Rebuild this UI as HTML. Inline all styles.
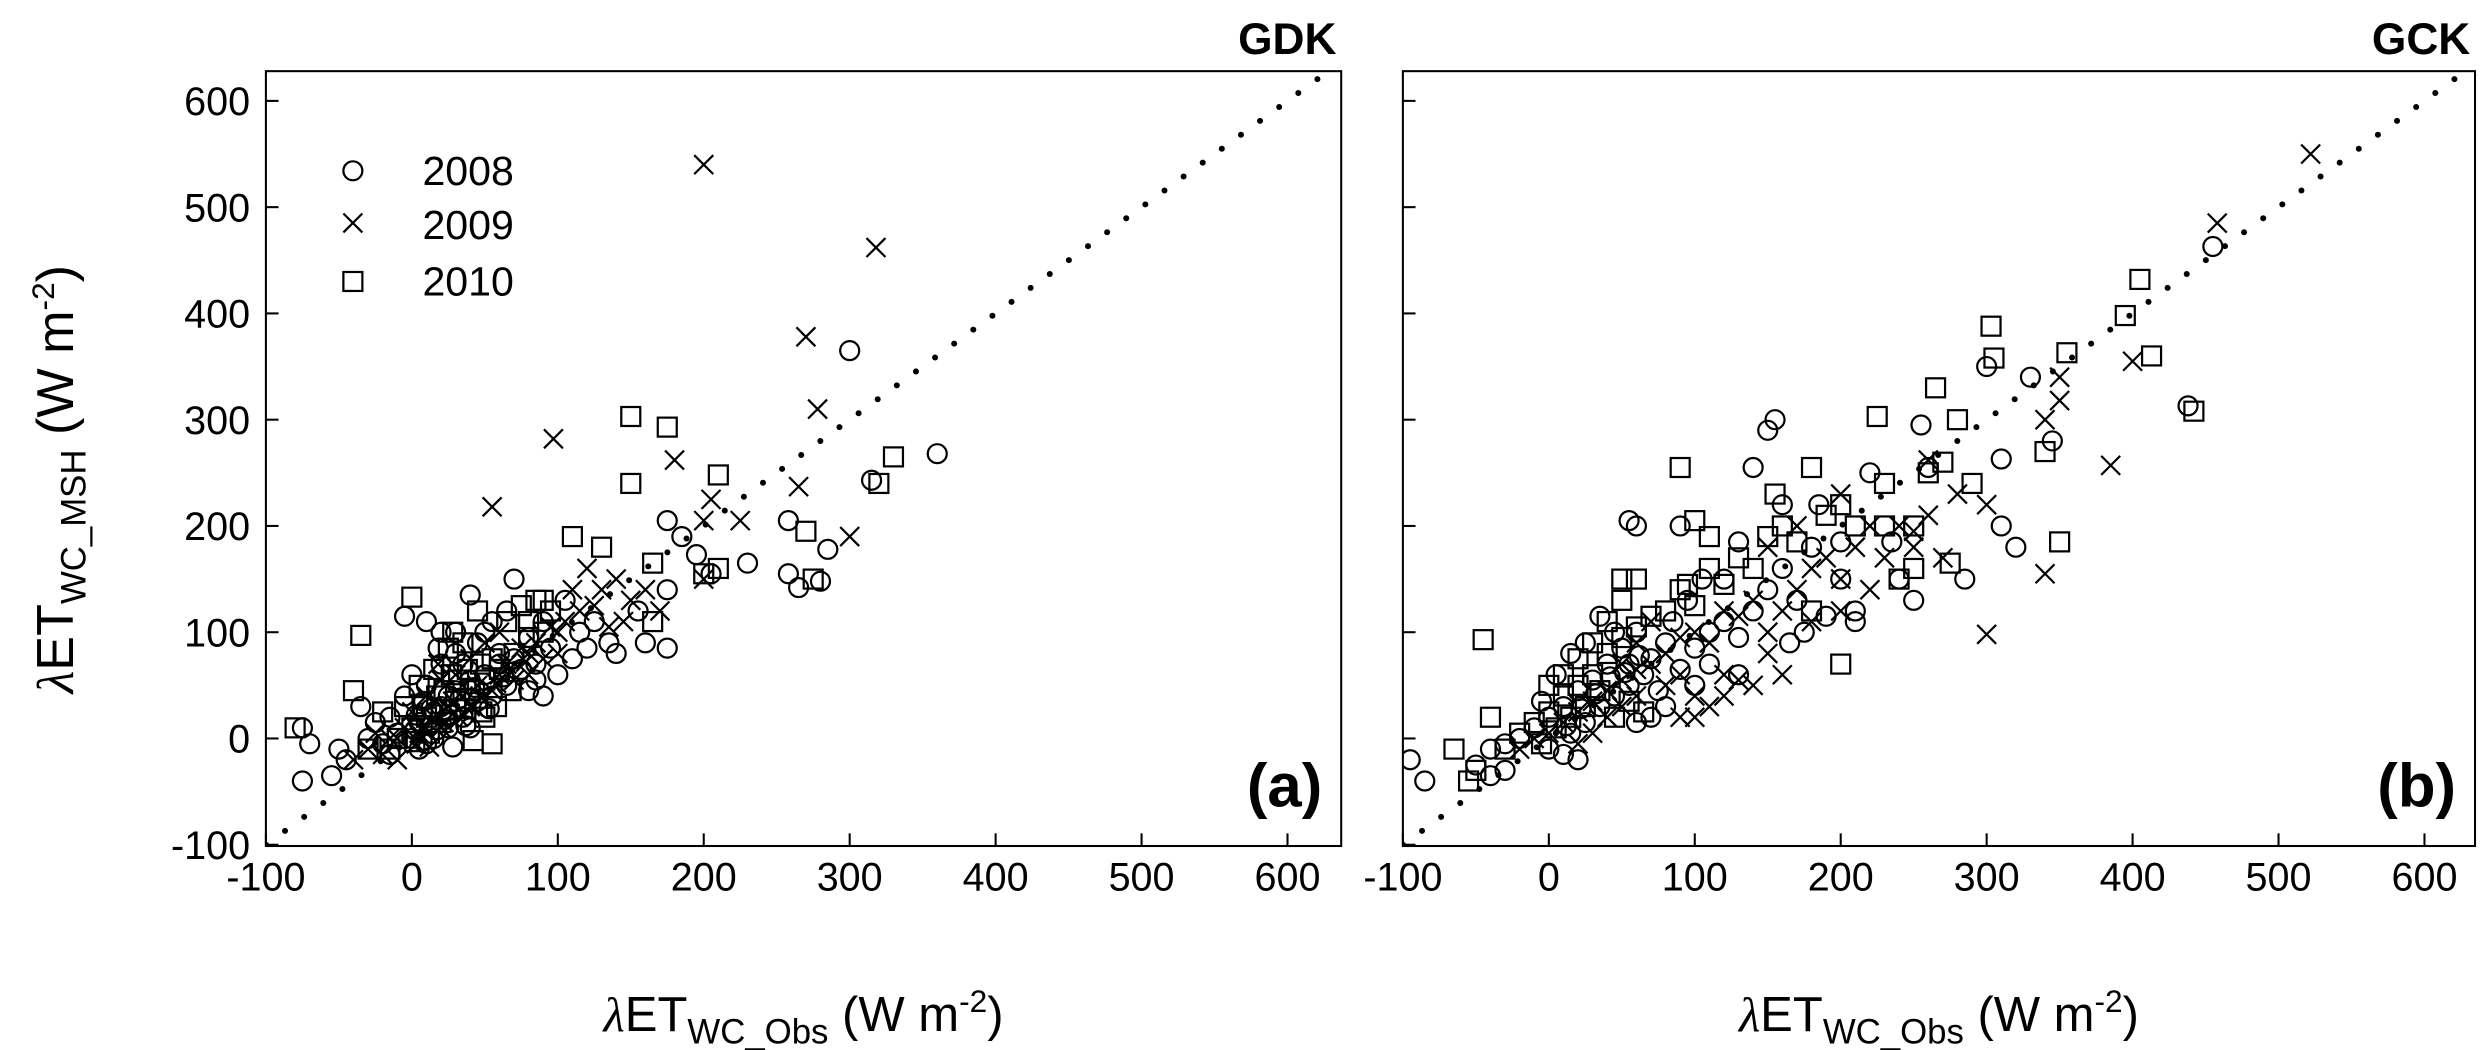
<!DOCTYPE html>
<html><head><meta charset="utf-8"><style>
html,body{margin:0;padding:0;background:#fff;}
svg{display:block;}
text{font-family:"Liberation Sans",Arial,sans-serif;fill:#000;}
</style></head><body>
<svg id="chart" width="2480" height="1050" viewBox="0 0 1568 664" xmlns="http://www.w3.org/2000/svg">
<defs>
<clipPath id="clipA"><rect x="168" y="45" width="680" height="490"/></clipPath>
<clipPath id="clipB"><rect x="887" y="45" width="678" height="490"/></clipPath>
</defs>
<g id="panelA"></g>
<g id="panelB"></g>
</svg>
<script>
const ticks = [-100,0,100,200,300,400,500,600];
const gdk2008 = [[-75,-40],[-70,-5],[-75,10],[-55,-35],[-50,-10],[-45,-20],[300,365],[360,268],[315,243],[285,178],[280,148],[265,142],[258,155],[258,205],[230,165],[195,173],[185,190],[205,155],[160,90],[175,85],[175,140],[175,205],[140,80],[155,120],[120,85],[110,75],[100,60],[85,55],[70,150],[40,135],[80,45],[90,40],[20,100],[10,110],[-5,115],[-15,20],[50,100],[60,70],[30,80],
[-20,-5],[-10,5],[0,0],[5,15],[10,-5],[15,25],[20,30],[25,10],[30,45],[35,20],[40,55],[45,35],[50,60],[55,40],[60,80],[65,50],[70,75],[75,65],[80,95],[85,70],[90,110],[95,85],[-5,40],[0,60],[10,50],[20,70],[30,100],[-25,15],[-15,-15],[5,-10],[15,0],[25,40],[35,70],[45,90],[55,110],[65,120],[105,130],[115,100],[125,110],[135,90],[-30,0],[-35,30],[40,10],[8,35],[18,85],[28,-8],[12,12],[3,22],[13,28],[23,18],[33,38],[43,48],[53,28],[63,58],[2,8],[7,-2],[17,8],[27,22],[37,12]];
const gdk2009 = [[200,540],[318,462],[270,378],[278,310],[265,237],[300,190],[97,282],[55,218],[180,262],[205,225],[200,205],[225,205],[200,150],[140,150],[145,110],[160,140],[170,120],[120,160],[125,125],[100,100],[80,80],[60,60],[-40,-20],[-30,-10],[-10,0],[20,10],[40,30],
[-15,0],[-5,10],[5,5],[15,20],[25,30],[35,40],[45,50],[55,45],[65,70],[75,85],[85,90],[95,105],[105,110],[115,120],[0,25],[10,40],[20,55],[30,60],[40,75],[50,90],[60,100],[70,55],[80,60],[90,75],[-20,-15],[-10,-20],[3,-5],[12,-8],[22,15],[32,20],[42,30],[110,140],[130,140],[150,130],[135,105],[100,80],[-25,5],[18,70],[8,12],[28,35],[48,38],[58,52],[68,62],[78,72]];
const gdk2010 = [[150,303],[175,293],[210,248],[150,240],[210,160],[330,265],[320,240],[270,195],[275,150],[200,155],[165,165],[165,110],[110,190],[130,180],[-80,10],[-35,97],[0,133],[-40,45],[55,-5],[50,20],[90,130],[80,110],
[-10,0],[0,10],[10,20],[20,15],[30,35],[40,45],[50,55],[60,65],[70,80],[80,95],[90,100],[-5,30],[5,50],[15,65],[25,85],[35,90],[45,120],[55,75],[65,110],[75,125],[-20,25],[-15,-10],[2,-3],[12,5],[22,45],[32,55],[42,-2],[85,130],[95,120],[-30,-10],[28,100],[38,65],[48,25],[58,30],[68,45],[7,30],[17,40],[27,60],[37,28],[47,70]];
const gck2008 = [[455,463],[438,313],[330,340],[310,263],[320,180],[310,200],[345,280],[255,295],[260,255],[235,185],[220,250],[155,300],[150,290],[140,255],[160,220],[185,220],[200,185],[130,185],[120,150],[90,200],[60,200],[55,205],[-95,-20],[-85,-40],[-40,-35],[-30,-30],[300,350],[285,150],[210,110],
[-50,-25],[-40,-10],[-30,-5],[-20,0],[-10,10],[0,-10],[0,20],[10,30],[15,5],[20,45],[25,15],[30,55],[35,30],[40,70],[45,40],[50,85],[55,50],[60,100],[65,60],[70,75],[75,45],[80,90],[85,110],[90,65],[95,130],[100,85],[105,150],[110,100],[120,110],[130,95],[140,120],[150,140],[160,160],[170,130],[180,180],[190,115],[200,150],[210,120],[60,15],[70,20],[80,30],[5,60],[15,80],[25,90],[35,115],[45,100],[55,70],[-5,35],[10,-15],[20,-20],[100,50],[110,70],[130,60],[165,90],[175,100],[240,150],[250,130],[12,12],[22,28],[32,42],[42,58],[52,62],[62,78]];
const gck2009 = [[522,550],[458,485],[400,355],[385,257],[340,155],[300,98],[350,318],[340,300],[260,262],[250,195],[200,150],[180,110],[150,80],[120,60],[100,40],[90,20],[200,230],[220,200],[270,170],[350,340],
[-20,-10],[-10,0],[0,5],[10,15],[20,25],[30,35],[40,45],[50,55],[60,65],[70,70],[80,80],[90,95],[100,100],[110,90],[120,120],[130,115],[140,130],[150,100],[160,120],[170,140],[180,160],[190,170],[210,180],[230,170],[240,200],[260,210],[280,230],[300,220],[120,40],[130,55],[140,50],[160,60],[110,30],[100,20],[60,40],[50,30],[40,20],[30,5],[20,-5],[80,50],[90,60],[70,110],[60,90],[50,70],[200,120],[220,140],[250,180],[150,180],[170,200]];
const gck2010 = [[405,432],[395,398],[413,360],[442,308],[355,363],[303,388],[305,358],[280,300],[265,330],[225,303],[180,255],[155,230],[250,160],[90,255],[100,205],[110,190],[-45,93],[-65,-10],[-55,-40],[340,270],[350,185],[275,165],[240,150],[200,70],[95,145],[50,150],
[-30,-10],[-20,5],[-10,15],[0,25],[10,40],[20,50],[30,60],[40,80],[50,95],[60,105],[70,115],[80,120],[90,140],[100,125],[110,160],[120,145],[130,170],[140,160],[150,190],[160,200],[170,185],[190,210],[200,220],[210,200],[-5,-5],[5,10],[15,20],[25,30],[35,45],[45,20],[55,35],[65,25],[0,50],[10,60],[20,75],[30,90],[40,110],[50,130],[60,150],[-40,20],[-50,-30],[230,240],[260,250],[270,260],[290,240],[230,200],[180,120],[250,200]];

const NS="http://www.w3.org/2000/svg";
function mk(tag, attrs, parent){const e=document.createElementNS(NS,tag);for(const k in attrs)e.setAttribute(k,attrs[k]);parent.appendChild(e);return e;}
const titleHTML = sub => '<tspan font-family="Liberation Serif" font-style="italic">λ</tspan>ET<tspan font-size="22" dy="8">'+sub+'</tspan><tspan dy="-8"> (W m</tspan><tspan font-size="20" dy="-12">-2</tspan><tspan dy="12">)</tspan>';

function drawPanel(g, cfg){
  const sx = v => cfg.x0 + v*0.9229;
  const sy = v => 467 - v*0.672;
  const dataG = mk('g',{'clip-path':'url(#'+cfg.clip+')'},g);
  for(let v=-100; v<=640; v+=13.1){
    const d=mk('circle',{cx:sx(v),cy:sy(v),r:1.9,fill:'#000'},dataG);
    
    
  }
  const st={fill:'none',stroke:'#000','stroke-width':1.4};
  cfg.c.forEach(p=>{const e=mk('circle',Object.assign({cx:sx(p[0]),cy:sy(p[1]),r:6},st),dataG);
    
    });
  cfg.x.forEach(p=>{const X=sx(p[0]),Y=sy(p[1]);const e=mk('path',Object.assign({d:`M${X-6} ${Y-6}L${X+6} ${Y+6}M${X-6} ${Y+6}L${X+6} ${Y-6}`},st),dataG);
    
    });
  cfg.s.forEach(p=>{const e=mk('rect',Object.assign({x:sx(p[0])-6,y:sy(p[1])-6,width:12,height:12},st),dataG);
    
    });
  const f=mk('rect',{x:cfg.fx,y:45,width:cfg.fw,height:490,fill:'none',stroke:'#000','stroke-width':1.3},g);
  
  
  ticks.forEach(t=>{
    mk('line',{x1:sx(t),x2:sx(t),y1:535,y2:527,stroke:'#000','stroke-width':1.3},g);
    mk('line',{x1:cfg.fx,x2:cfg.fx+8,y1:sy(t),y2:sy(t),stroke:'#000','stroke-width':1.3},g);
    const tl=mk('text',{x:sx(t),y:563,'text-anchor':'middle','font-size':25},g);
    tl.textContent=t;
    
    
    if(cfg.ylabels){
      const yl=mk('text',{x:158,y:sy(t)+9,'text-anchor':'end','font-size':25},g);
      yl.textContent=t;
      
      
    }
  });
  const ttl=mk('text',{x:cfg.fx+cfg.fw-3,y:34,'text-anchor':'end','font-size':28,'font-weight':'bold'},g);
  ttl.textContent=cfg.title;
  
  
  const lab=mk('text',{x:cfg.fx+cfg.fw-12,y:510,'text-anchor':'end','font-size':39,'font-weight':'bold'},g);
  lab.textContent=cfg.label;
  
  
  const xt=mk('text',{x:cfg.fx+cfg.fw/2,y:652,'text-anchor':'middle','font-size':31},g);
  xt.innerHTML=titleHTML('WC_Obs');
  
  
}

const A=document.getElementById('panelA');
drawPanel(A,{x0:260.3,fx:168,fw:680,clip:'clipA',c:gdk2008,x:gdk2009,s:gdk2010,ylabels:true,title:'GDK',label:'(a)'});
drawPanel(document.getElementById('panelB'),{x0:979.3,fx:887,fw:678,clip:'clipB',c:gck2008,x:gck2009,s:gck2010,ylabels:false,title:'GCK',label:'(b)'});

const yt=mk('text',{transform:'translate(46,303) rotate(-90)','text-anchor':'middle','font-size':33},A);
yt.innerHTML=titleHTML('WC_MSH');



const lg=mk('g',{},A);


const ls={fill:'none',stroke:'#000','stroke-width':1.4};
mk('circle',Object.assign({cx:223,cy:108,r:6},ls),lg);
mk('path',Object.assign({d:'M217 135L229 147M217 147L229 135'},ls),lg);
mk('rect',Object.assign({x:217,y:172,width:12,height:12},ls),lg);
[['2008',117],['2009',151],['2010',187]].forEach(a=>{
  const t=mk('text',{x:267,y:a[1],'font-size':26},lg);
  t.textContent=a[0];
  
  
});
</script>
</body></html>
